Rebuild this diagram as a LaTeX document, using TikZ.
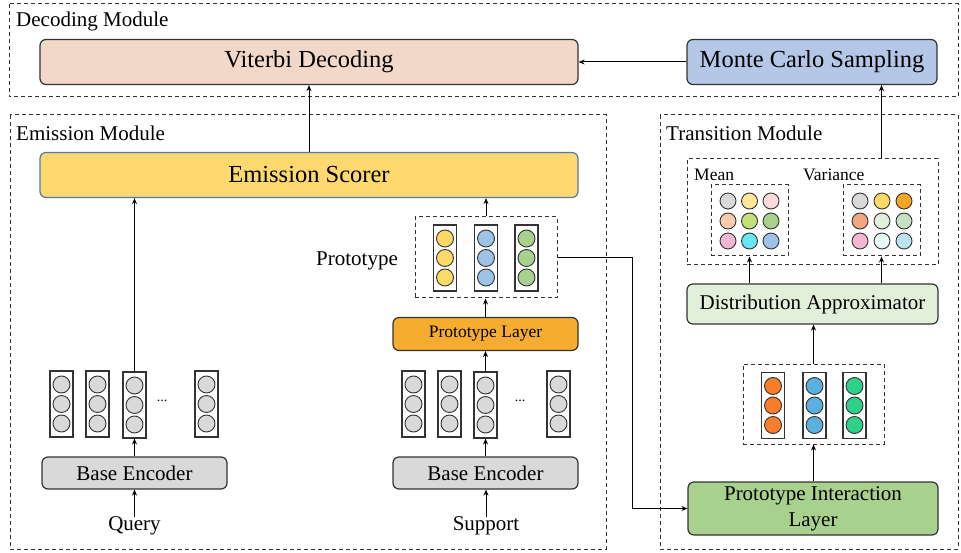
\documentclass[tikz,border=0pt]{standalone}
\usepackage{fontspec}
\setmainfont{Liberation Serif}
\usetikzlibrary{arrows.meta,positioning}
\definecolor{viterbi}{HTML}{F2D8C8}
\definecolor{monte}{HTML}{B4C7E7}
\definecolor{emis}{HTML}{FFD970}
\definecolor{emisb}{HTML}{5577AA}
\definecolor{protol}{HTML}{F6AC2F}
\definecolor{encg}{HTML}{D9D9D9}
\definecolor{distr}{HTML}{E2EFDA}
\definecolor{pil}{HTML}{A9D18E}
\definecolor{edge}{HTML}{333333}
\definecolor{cyel}{HTML}{FFD966}
\definecolor{cblu}{HTML}{9DC3E6}
\definecolor{cgrn}{HTML}{A9D18E}
\definecolor{tora}{HTML}{FA7D2A}
\definecolor{tblu}{HTML}{5BB0E0}
\definecolor{tgrn}{HTML}{2ED18A}
\definecolor{mA}{HTML}{D9D9D9}
\definecolor{mB}{HTML}{FFE699}
\definecolor{mC}{HTML}{FADADD}
\definecolor{mD}{HTML}{F8CBAD}
\definecolor{mE}{HTML}{C5E07A}
\definecolor{mF}{HTML}{A9D18E}
\definecolor{mG}{HTML}{F4B6D2}
\definecolor{mH}{HTML}{66E5F5}
\definecolor{mI}{HTML}{9DC3E6}
\definecolor{vA}{HTML}{D9D9D9}
\definecolor{vB}{HTML}{FFD966}
\definecolor{vC}{HTML}{F5A623}
\definecolor{vD}{HTML}{F4A582}
\definecolor{vE}{HTML}{E2EFDA}
\definecolor{vF}{HTML}{C6E0C4}
\definecolor{vG}{HTML}{F4B6D0}
\definecolor{vH}{HTML}{E8FBF8}
\definecolor{vI}{HTML}{BDE3F2}
\newcommand\featvec[6]{%
  \node[vecbox] (#1) at (#2,#3) {};
  \node[dot, fill=#4] (#1a) at ([yshift=19.5pt]#1.center) {};
  \node[dot, fill=#5] (#1b) at (#1.center) {};
  \node[dot, fill=#6] (#1c) at ([yshift=-19.5pt]#1.center) {};
}
\newcommand\gdot[4]{\node[sdot, fill=#4] (#1) at (#2,#3) {};}
\begin{document}
\begin{tikzpicture}[x=1pt,y=-1pt,
  box/.style={draw=edge, line width=1.2pt, rounded corners=6pt, inner sep=0pt, align=center},
  big/.style={font=\fontsize{24.5}{28}\selectfont},
  mid/.style={font=\fontsize{21}{26}\selectfont},
  sml/.style={font=\fontsize{17.5}{21}\selectfont},
  module/.style={draw=edge, line width=1pt, dash pattern=on 4pt off 3pt},
  group/.style={draw=edge, line width=1pt, dash pattern=on 4pt off 3pt, inner sep=0pt},
  vecbox/.style={draw=edge, line width=1.1pt, fill=white, minimum width=23pt, minimum height=66pt, inner sep=0pt},
  dot/.style={circle, draw=edge, line width=0.9pt, minimum size=17pt, inner sep=0pt},
  sdot/.style={circle, draw=edge, line width=0.9pt, minimum size=16pt, inner sep=0pt},
  arr/.style={-{Stealth[length=6pt,width=5pt]}, line width=1pt, draw=black},
  lbl/.style={inner sep=0pt, anchor=west}
]
\useasboundingbox (0,0) rectangle (961,553);

% module frames
\draw[module] (9,4) rectangle (958,97);
\draw[module] (10,115) rectangle (606,549);
\draw[module] (660,115) rectangle (958,549);
\node[lbl, mid] (decl) at (16,21) {Decoding Module};
\node[lbl, mid] (emil) at (16,133) {Emission Module};
\node[lbl, mid] (tral) at (666,133) {Transition Module};

% decoding
\node[box, big, fill=viterbi, minimum width=538pt, minimum height=45pt] (vit) at (309,62) {Viterbi Decoding};
\node[box, big, fill=monte, minimum width=250pt, minimum height=45pt] (mc) at (812,62) {Monte Carlo Sampling};

% emission
\node[box, big, fill=emis, draw=emisb, minimum width=538pt, minimum height=45pt] (es) at (309,175) {Emission Scorer};
\node[box, sml, fill=protol, minimum width=185pt, minimum height=33pt] (pl) at (485.5,334) {Prototype Layer};
\node[box, mid, fill=encg, minimum width=185pt, minimum height=32pt] (bel) at (134.5,473) {Base Encoder};
\node[box, mid, fill=encg, minimum width=185pt, minimum height=32pt] (ber) at (485.5,473) {Base Encoder};
\node[mid, inner sep=0pt] (qry) at (134.5,526) {Query};
\node[mid, inner sep=0pt] (sup) at (486,526) {Support};

\featvec{lva}{61.5}{404}{encg}{encg}{encg}
\featvec{lvb}{97.5}{404}{encg}{encg}{encg}
\featvec{lvc}{134.5}{405}{encg}{encg}{encg}
\featvec{lvd}{206.5}{404}{encg}{encg}{encg}
\node[font=\fontsize{14}{14}\selectfont, inner sep=0pt] (ldots) at (162,401) {...};
\featvec{rva}{413.5}{404}{encg}{encg}{encg}
\featvec{rvb}{449.5}{404}{encg}{encg}{encg}
\featvec{rvc}{485.5}{405}{encg}{encg}{encg}
\featvec{rvd}{558.5}{404}{encg}{encg}{encg}
\node[font=\fontsize{14}{14}\selectfont, inner sep=0pt] (rdots) at (520,401) {...};

\node[group, minimum width=142pt, minimum height=81pt] (pg) at (486,257.5) {};
\featvec{pva}{445}{258}{cyel}{cyel}{cyel}
\featvec{pvb}{486}{258}{cblu}{cblu}{cblu}
\featvec{pvc}{526.5}{258}{cgrn}{cgrn}{cgrn}
\node[mid, inner sep=0pt] (plab) at (357,261) {Prototype};

% transition
\node[box, mid, fill=pil, minimum width=250pt, minimum height=53pt, text depth=4pt] (pil) at (813,508.5) {Prototype Interaction\\Layer};
\node[group, minimum width=141pt, minimum height=80pt] (tg) at (813.5,404) {};
\featvec{tva}{773}{405.5}{tora}{tora}{tora}
\featvec{tvb}{814.5}{405.5}{tblu}{tblu}{tblu}
\featvec{tvc}{854.5}{405.5}{tgrn}{tgrn}{tgrn}
\node[box, mid, fill=distr, minimum width=251pt, minimum height=40pt] (da) at (812.5,304) {Distribution Approximator};

\node[group, minimum width=251pt, minimum height=106pt] (mv) at (812.5,212) {};
\node[lbl, sml] (meanl) at (694,175) {Mean};
\node[lbl, sml] (varl) at (803,175) {Variance};
\node[group, minimum width=77pt, minimum height=71pt] (mg) at (749.5,220.5) {};
\node[group, minimum width=77pt, minimum height=71pt] (vg) at (881.5,220.5) {};
\gdot{m1}{728}{201}{mA}\gdot{m2}{749.5}{201}{mB}\gdot{m3}{771}{201}{mC}
\gdot{m4}{728}{221}{mD}\gdot{m5}{749.5}{221}{mE}\gdot{m6}{771}{221}{mF}
\gdot{m7}{728}{241}{mG}\gdot{m8}{749.5}{241}{mH}\gdot{m9}{771}{241}{mI}
\gdot{v1}{860}{201}{vA}\gdot{v2}{882}{201}{vB}\gdot{v3}{904}{201}{vC}
\gdot{v4}{860}{221}{vD}\gdot{v5}{882}{221}{vE}\gdot{v6}{904}{221}{vF}
\gdot{v7}{860}{241}{vG}\gdot{v8}{882}{241}{vH}\gdot{v9}{904}{241}{vI}

% connectors
\draw[arr] (mc.west) -- (vit.east);
\draw[arr] (es.north) -- (vit.south);
\draw[arr] (mv.north -| vg) -- (mc.south -| vg);
\draw[arr] (lvc.north) -- (es.south -| lvc);
\draw[arr] (pg.north) -- (es.south -| pg);
\draw[arr] (pl.north) -- (pg.south -| pl);
\draw[arr] (rvc.north) -- (pl.south -| rvc);
\draw[arr] (bel.north -| lvc) -- (lvc.south);
\draw[arr] (ber.north -| rvc) -- (rvc.south);
\draw[arr] (qry.north) -- (bel.south -| qry);
\draw[arr] (sup.north) -- (ber.south -| sup);
\draw[arr] (pg.east) -- ++(75,0) |- (pil.west);
\draw[arr] (pil.north -| tg) -- (tg.south);
\draw[arr] (tg.north) -- (da.south -| tg);
\draw[arr] (da.north -| mg) -- (mg.south);
\draw[arr] (da.north -| vg) -- (vg.south);
\end{tikzpicture}
\end{document}
